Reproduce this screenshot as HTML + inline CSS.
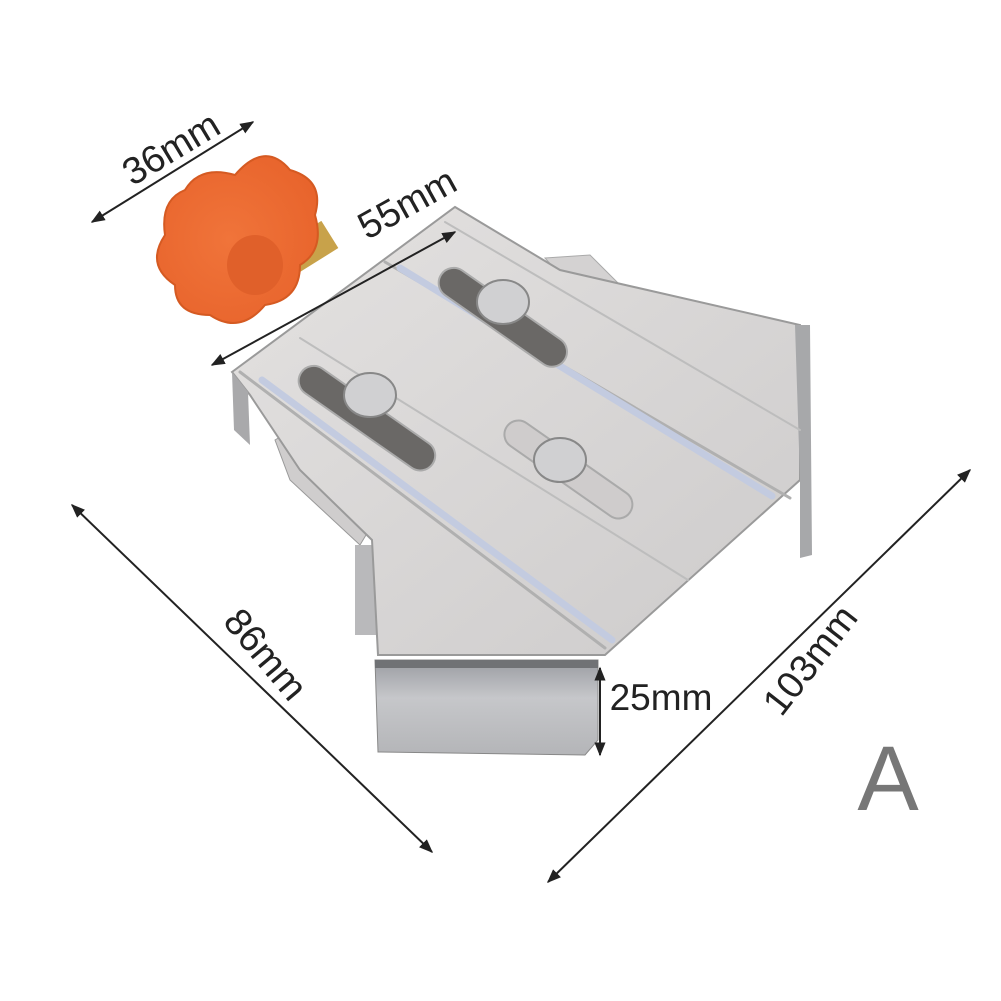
<!DOCTYPE html>
<html><head><meta charset="utf-8"><style>
html,body{margin:0;padding:0;background:#fff}
svg{display:block}
text{font-family:"Liberation Sans",sans-serif;fill:#222}
</style></head><body>
<svg width="1001" height="1001" viewBox="0 0 1001 1001" xmlns="http://www.w3.org/2000/svg">
<defs>
<marker id="ar" viewBox="0 0 10 10" refX="9" refY="5" markerWidth="7" markerHeight="7" orient="auto-start-reverse"><path d="M0,1 L10,5 L0,9 z" fill="#222"/></marker>
<linearGradient id="plate" x1="0" y1="0" x2="1" y2="1"><stop offset="0" stop-color="#e4e2e1"/><stop offset="1" stop-color="#cdcbcb"/></linearGradient>
<linearGradient id="front" x1="0" y1="0" x2="0" y2="1"><stop offset="0" stop-color="#9a9ca2"/><stop offset="0.4" stop-color="#c6c7ca"/><stop offset="1" stop-color="#b4b5b8"/></linearGradient>
<radialGradient id="knob" cx="0.45" cy="0.5" r="0.6"><stop offset="0" stop-color="#f0743a"/><stop offset="1" stop-color="#e8642c"/></radialGradient>
</defs>

<polygon points="545,258 590,255 640,305 600,320" fill="#d4d2d2" stroke="#aaa"/>
<polygon points="275,440 300,425 375,520 360,545 290,480" fill="#cfcdcd" stroke="#999"/>
<rect x="355" y="545" width="22" height="90" fill="#b9b9bb"/>

<polygon points="232,372 455,207 560,270 800,325 800,480 605,655 378,655 372,540 300,470 250,395" fill="url(#plate)" stroke="#9a9a9a" stroke-width="2"/>
<polygon points="232,372 248,392 250,445 234,430" fill="#a9a9ab"/>
<polygon points="795,325 810,325 812,555 800,558 800,480" fill="#a7a8aa"/>
<g stroke-linecap="round">
<line x1="240" y1="372" x2="605" y2="648" stroke="#b0b0b0" stroke-width="3"/>
<line x1="262" y1="380" x2="612" y2="640" stroke="#c3cbe0" stroke-width="7"/>
<line x1="300" y1="338" x2="688" y2="580" stroke="#bdbdbd" stroke-width="2"/>
<line x1="385" y1="262" x2="790" y2="498" stroke="#b0b0b0" stroke-width="3"/>
<line x1="400" y1="268" x2="772" y2="496" stroke="#c3cbe0" stroke-width="7"/>
<line x1="445" y1="222" x2="800" y2="430" stroke="#bdbdbd" stroke-width="2"/>
</g>
<g fill="#6a6866" stroke="#aaa" stroke-width="2">
<rect x="310" y="360" width="160" height="30" rx="15" transform="rotate(35 310 360)"/>
<rect x="450" y="262" width="150" height="30" rx="15" transform="rotate(35 450 262)"/>
<rect x="515" y="415" width="150" height="28" rx="14" transform="rotate(35 515 415)" fill="#cfcccc"/>
</g>
<g fill="#d0d0d2" stroke="#888" stroke-width="2">
<ellipse cx="370" cy="395" rx="26" ry="22"/>
<ellipse cx="503" cy="302" rx="26" ry="22"/>
<ellipse cx="560" cy="460" rx="26" ry="22"/>
</g>
<polygon points="375,660 598,660 598,740 585,755 378,752" fill="url(#front)" stroke="#888"/>
<rect x="375" y="660" width="223" height="8" fill="#707275"/>

<rect x="262" y="258" width="70" height="32" fill="#c8a24a" transform="rotate(-32 262 258)"/>
<rect x="258" y="262" width="40" height="24" fill="#c9c9c9" transform="rotate(-32 258 262)"/>
<path d="M185,190 Q200,165 235,175 Q265,140 290,170 Q325,180 315,215 Q325,250 300,265 Q300,300 265,305 Q240,335 210,315 Q175,315 175,285 Q145,265 165,235 Q160,200 185,190 z" fill="url(#knob)" stroke="#d55a22" stroke-width="2"/>
<ellipse cx="255" cy="265" rx="28" ry="30" fill="#e0602a"/>

<g stroke="#222" stroke-width="2" fill="none">
<line x1="92" y1="222" x2="253" y2="122" marker-start="url(#ar)" marker-end="url(#ar)"/>
<line x1="212" y1="365" x2="455" y2="232" marker-start="url(#ar)" marker-end="url(#ar)"/>
<line x1="72" y1="505" x2="432" y2="852" marker-start="url(#ar)" marker-end="url(#ar)"/>
<line x1="548" y1="882" x2="970" y2="470" marker-start="url(#ar)" marker-end="url(#ar)"/>
<line x1="600" y1="668" x2="600" y2="755" marker-start="url(#ar)" marker-end="url(#ar)"/>
</g>
<text x="172" y="161" font-size="38" text-anchor="middle" transform="rotate(-31 172 150)">36mm</text>
<text x="408" y="216" font-size="38" text-anchor="middle" transform="rotate(-29 408 205)">55mm</text>
<text x="265" y="667" font-size="38" text-anchor="middle" transform="rotate(50 265 655)">86mm</text>
<text x="810" y="673" font-size="38" text-anchor="middle" transform="rotate(-52 810 660)">103mm</text>
<text x="661" y="710" font-size="37" text-anchor="middle">25mm</text>
<text x="888" y="810" font-size="92" text-anchor="middle" style="fill:#777">A</text>
</svg>
</body></html>
